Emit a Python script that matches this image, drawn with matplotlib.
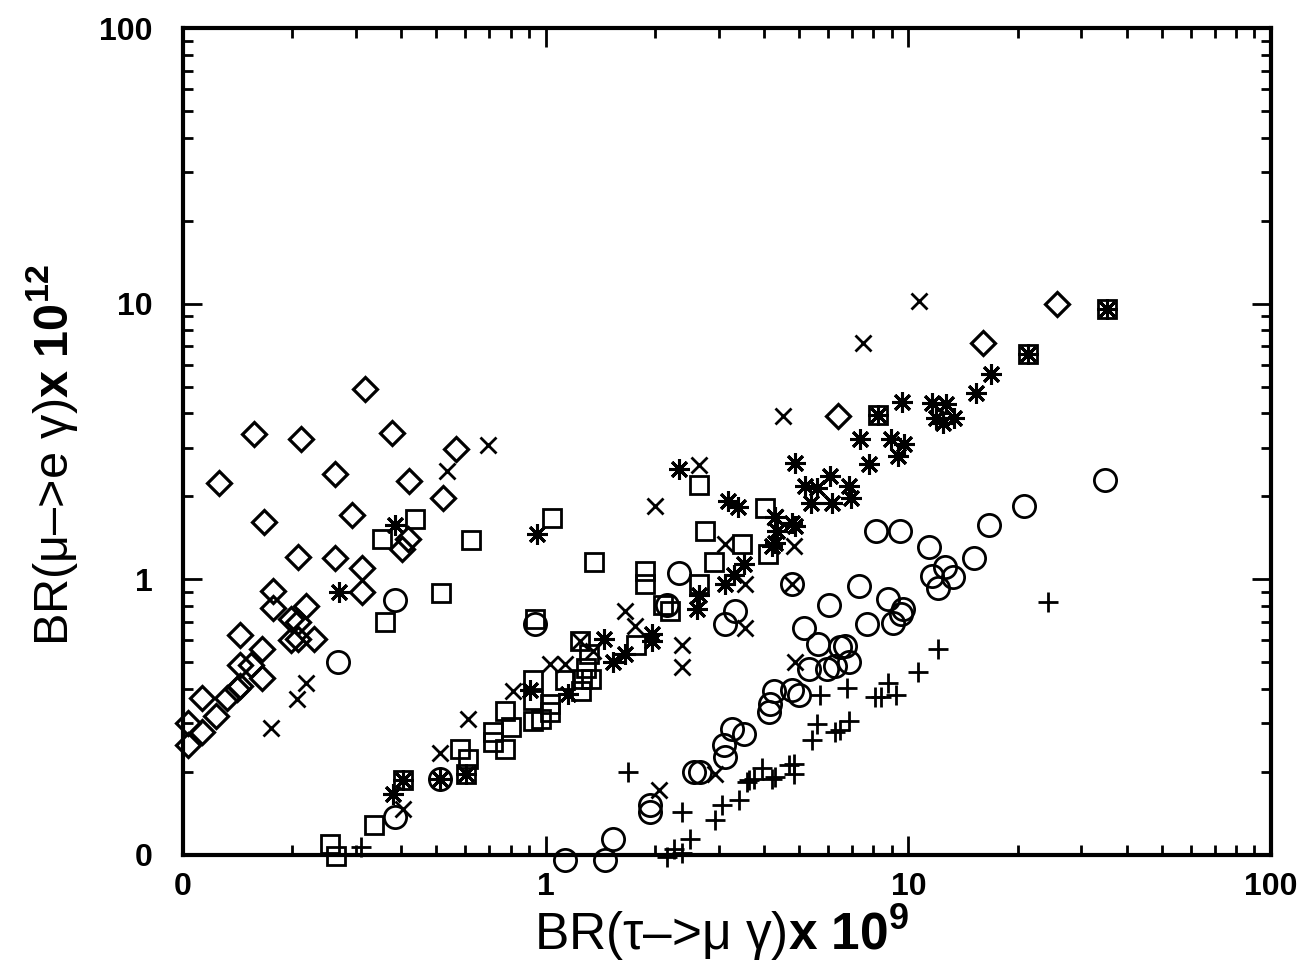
import matplotlib
matplotlib.use("Agg")
import matplotlib.pyplot as plt
from matplotlib.ticker import FixedLocator, FixedFormatter, LogLocator, NullFormatter

plt.rcParams['font.family'] = ['Liberation Sans', 'DejaVu Sans']
plt.rcParams['mathtext.fontset'] = 'custom'
plt.rcParams['mathtext.rm'] = 'Liberation Sans'
plt.rcParams['mathtext.bf'] = 'Liberation Sans:bold'
plt.rcParams['mathtext.it'] = 'Liberation Sans:italic'

# ---- data ----
diamond_x = [0.103, 0.103, 0.113, 0.113, 0.123, 0.132, 0.141, 0.144, 0.144, 0.154, 0.165, 0.144, 0.165,
             0.198, 0.207, 0.229, 0.198, 0.207, 0.177, 0.218, 0.177, 0.312, 0.312, 0.208, 0.262, 0.167,
             0.293, 0.418, 0.402, 0.126, 0.263, 0.42, 0.521, 0.157, 0.211, 0.377, 0.566, 0.318, 6.4, 16.1, 25.7]
diamond_y = [0.25, 0.30, 0.28, 0.37, 0.32, 0.37, 0.40, 0.41, 0.49, 0.49, 0.44, 0.63, 0.56,
             0.60, 0.61, 0.61, 0.72, 0.70, 0.79, 0.80, 0.91, 0.90, 1.10, 1.21, 1.20, 1.61,
             1.71, 1.40, 1.29, 2.23, 2.41, 2.27, 1.97, 3.37, 3.23, 3.40, 2.97, 4.91, 3.9, 7.2, 10.0]

square_x = [0.255, 0.265, 0.337, 0.405, 0.361, 0.515, 0.354, 0.436, 0.622, 1.04, 0.58, 0.611, 0.603,
            0.771, 0.80, 0.715, 0.715, 0.771, 0.921, 0.921, 1.03, 1.03, 0.921, 0.969, 0.933, 1.13,
            1.26, 1.33, 1.25, 1.24, 1.36, 1.32, 1.77, 1.88, 1.88, 2.10, 2.20, 2.65, 2.65, 2.75,
            2.91, 3.48, 4.02, 4.10, 8.27, 21.4, 35.4, 1.29]
square_y = [0.110, 0.099, 0.129, 0.187, 0.70, 0.89, 1.40, 1.65, 1.39, 1.67, 0.243, 0.223, 0.197,
            0.334, 0.292, 0.280, 0.258, 0.243, 0.433, 0.366, 0.354, 0.331, 0.305, 0.312, 0.716, 0.433,
            0.436, 0.436, 0.392, 0.595, 1.16, 0.534, 0.58, 1.07, 0.96, 0.81, 0.765, 0.96, 2.20, 1.50,
            1.16, 1.34, 1.81, 1.24, 3.95, 6.58, 9.6, 0.475]

aster_x = [0.385, 0.27, 0.945, 0.38, 0.405, 0.511, 0.603, 0.904, 1.15, 1.53, 1.66, 1.97, 1.45, 1.97,
           2.33, 3.18, 3.39, 4.86, 7.38, 8.93, 7.81, 9.39, 9.75, 5.18, 5.59, 6.07, 6.84, 5.38, 6.14,
           6.97, 4.28, 4.34, 4.86, 4.28, 3.52, 3.30, 3.12, 2.65, 2.62, 9.63, 11.6, 12.7, 11.9, 12.5,
           13.4, 15.4, 16.9, 8.27, 21.4, 35.4, 4.20, 4.77]
aster_y = [1.58, 0.90, 1.46, 0.167, 0.187, 0.189, 0.197, 0.398, 0.385, 0.503, 0.534, 0.595, 0.61, 0.631,
           2.51, 1.92, 1.83, 2.64, 3.23, 3.23, 2.62, 2.80, 3.10, 2.18, 2.14, 2.37, 2.18, 1.89, 1.89,
           1.97, 1.69, 1.50, 1.56, 1.35, 1.14, 1.04, 0.96, 0.88, 0.78, 4.40, 4.37, 4.33, 3.85, 3.69,
           3.85, 4.75, 5.56, 3.95, 6.58, 9.6, 1.32, 1.60]

cross_x = [0.693, 0.535, 0.218, 0.206, 0.175, 0.405, 0.511, 0.611, 0.811, 1.03, 1.13, 2.00, 2.65,
           4.28, 4.83, 3.12, 3.54, 2.38, 2.38, 3.54, 2.06, 2.93, 4.86, 4.77, 4.51, 7.52, 10.7,
           1.66, 1.76, 1.24, 1.35]
cross_y = [3.07, 2.47, 0.419, 0.369, 0.29, 0.147, 0.235, 0.312, 0.392, 0.491, 0.491, 1.84, 2.60,
           1.69, 1.32, 1.34, 0.96, 0.58, 0.479, 0.664, 0.172, 0.197, 0.503, 0.96, 3.92, 7.21, 10.2,
           0.765, 0.675, 0.595, 0.548]

circle_x = [0.268, 0.385, 0.385, 0.511, 0.933, 1.13, 1.46, 1.53, 1.94, 1.94, 2.16, 2.33, 2.57, 2.67,
            3.12, 3.10, 3.26, 3.52, 4.12, 4.15, 4.26, 4.77, 4.99, 5.31, 5.95, 6.26, 6.84, 6.67, 6.46,
            5.62, 5.15, 6.03, 7.29, 7.67, 8.81, 9.69, 9.57, 9.10, 3.32, 3.12, 4.77, 8.17, 9.51, 11.4,
            12.6, 11.6, 13.3, 12.1, 15.2, 16.7, 20.9, 34.8]
circle_y = [0.50, 0.84, 0.137, 0.189, 0.686, 0.096, 0.096, 0.114, 0.152, 0.143, 0.81, 1.05, 0.20, 0.20,
            0.227, 0.251, 0.287, 0.275, 0.331, 0.354, 0.392, 0.398, 0.382, 0.471, 0.471, 0.483, 0.503, 0.571, 0.566,
            0.585, 0.664, 0.81, 0.943, 0.686, 0.846, 0.778, 0.746, 0.692, 0.765, 0.686, 0.96, 1.50, 1.50, 1.31,
            1.11, 1.03, 1.02, 0.93, 1.20, 1.57, 1.84, 2.29]

plus_x = [0.31, 1.69, 2.38, 2.50, 2.26, 2.16, 2.93, 3.06, 3.41, 3.63, 3.75, 3.95, 4.20, 4.28, 4.83, 4.83,
          5.41, 5.59, 6.26, 6.46, 6.84, 5.69, 6.76, 8.07, 8.43, 8.81, 9.27, 10.6, 12.1, 24.2, 3.59, 4.68, 2.38]
plus_y = [0.107, 0.20, 0.143, 0.114, 0.105, 0.098, 0.134, 0.152, 0.158, 0.187, 0.189, 0.206, 0.189, 0.192, 0.214, 0.197,
          0.262, 0.299, 0.28, 0.285, 0.305, 0.382, 0.402, 0.375, 0.375, 0.419, 0.382, 0.463, 0.561, 0.825, 0.184, 0.212, 0.102]

tick_vals = [0.1, 1, 10, 100]
tick_labels = ['0', '1', '10', '100']

# ---- figure ----
fig = plt.figure(figsize=(13.08, 9.63), dpi=100)
ax = fig.add_axes([183/1308, 1 - 855/963, (1271 - 183)/1308, (855 - 28)/963])
ax.set_xscale('log')
ax.set_yscale('log')
ax.set_xlim(0.1, 100)
ax.set_ylim(0.1, 100)

common = dict(linestyle='none', color='black', clip_on=False)
ax.plot(diamond_x, diamond_y, marker='D', ms=12, mfc='none', mec='black', mew=2.3, **common)
ax.plot(square_x, square_y, marker='s', ms=13.5, mfc='none', mec='black', mew=2.0, **common)
ax.plot(circle_x, circle_y, marker='o', ms=16, mfc='none', mec='black', mew=2.0, **common)
ax.plot(cross_x, cross_y, marker='x', ms=12, mec='black', mew=2.0, **common)
ax.plot(plus_x, plus_y, marker='+', ms=15, mec='black', mew=2.0, **common)
ax.plot(aster_x, aster_y, marker=(8, 2, 0), ms=15, mec='black', mew=2.2, **common)

for s in ax.spines.values():
    s.set_linewidth(3)

ax.xaxis.set_major_locator(FixedLocator(tick_vals))
ax.xaxis.set_major_formatter(FixedFormatter(tick_labels))
ax.yaxis.set_major_locator(FixedLocator(tick_vals))
ax.yaxis.set_major_formatter(FixedFormatter(tick_labels))
ax.xaxis.set_minor_locator(LogLocator(base=10, subs=range(2, 10)))
ax.yaxis.set_minor_locator(LogLocator(base=10, subs=range(2, 10)))
ax.xaxis.set_minor_formatter(NullFormatter())
ax.yaxis.set_minor_formatter(NullFormatter())
ax.tick_params(which='both', direction='in', top=True, right=True, width=2)
ax.tick_params(which='major', length=14, labelsize=23)
ax.tick_params(axis='x', which='major', pad=12)
ax.tick_params(axis='y', which='major', pad=22)
ax.tick_params(which='minor', length=7)
for lab in ax.get_xticklabels() + ax.get_yticklabels():
    lab.set_fontweight('bold')

ax.set_xlabel('BR(τ–>μ γ)' + r'$\mathbf{x\ 10^{9}}$', fontsize=37)
ax.set_ylabel('BR(μ–>e γ)' + r'$\mathbf{x\ 10^{12}}$', fontsize=35)
ax.xaxis.set_label_coords((722 - 183) / 1088, (855 - 902) / 827)
ax.yaxis.set_label_coords((80 - 183) / 1088, (855 - 455) / 827)

fig.savefig('out.png', dpi=100, facecolor='white')
